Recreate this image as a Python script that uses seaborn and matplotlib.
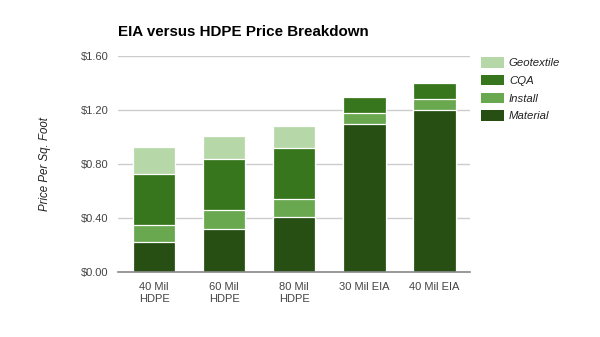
import matplotlib
matplotlib.use("Agg")
import matplotlib.pyplot as plt
import seaborn as sns
import numpy as np
import pandas as pd
from matplotlib.patches import Patch

# Price components per square foot for each liner option
categories = ["40 Mil\nHDPE", "60 Mil\nHDPE", "80 Mil\nHDPE", "30 Mil EIA", "40 Mil EIA"]
material = [0.22, 0.32, 0.41, 1.10, 1.20]
install = [0.13, 0.14, 0.13, 0.08, 0.08]
cqa = [0.38, 0.38, 0.38, 0.12, 0.12]
geotextile = [0.20, 0.17, 0.16, 0.00, 0.00]

y_ticks = [0.0, 0.4, 0.8, 1.2, 1.6]
y_tick_labels = ["$0.00", "$0.40", "$0.80", "$1.20", "$1.60"]

colors = {
    "Geotextile": "#b6d7a8",
    "CQA": "#38761d",
    "Install": "#6aa84f",
    "Material": "#274e13",
}

sns.set_theme(style="white")
plt.rcParams["font.family"] = ["Liberation Sans", "DejaVu Sans"]

df = pd.DataFrame({
    "category": categories,
    "Material": material,
    "Install": install,
    "CQA": cqa,
    "Geotextile": geotextile,
})
df["lvl_install"] = df["Material"] + df["Install"]
df["lvl_cqa"] = df["lvl_install"] + df["CQA"]
df["lvl_geo"] = df["lvl_cqa"] + df["Geotextile"]

fig = plt.figure(figsize=(6.0, 3.37), dpi=100)
ax = fig.add_axes([0.197, 0.193, 0.586, 0.640])

# Stacked bars drawn from the tallest cumulative level down
layers = [("lvl_geo", "Geotextile"), ("lvl_cqa", "CQA"),
          ("lvl_install", "Install"), ("Material", "Material")]
for col, name in layers:
    sns.barplot(data=df, x="category", y=col, color=colors[name],
                saturation=1, width=0.607, edgecolor="white",
                linewidth=0.9, ax=ax, zorder=3)

ax.set_xlim(-0.514, 4.507)
ax.set_ylim(0, 1.6)
ax.set_yticks(y_ticks)
ax.set_yticklabels(y_tick_labels)
ax.grid(axis="y", color="#cccccc", linewidth=1.0, zorder=0)
ax.set_axisbelow(True)
for side in ["top", "right", "left"]:
    ax.spines[side].set_visible(False)
ax.spines["bottom"].set_color("#888888")
ax.spines["bottom"].set_linewidth(1.2)
ax.spines["bottom"].set_zorder(4)
ax.tick_params(axis="both", length=0, labelsize=8, colors="#444444")
ax.tick_params(axis="y", pad=7)
ax.tick_params(axis="x", pad=7)
for lab in ax.get_xticklabels():
    lab.set_linespacing(1.3)
    lab.set_verticalalignment("top")

ax.set_xlabel("")
ax.set_ylabel("Price Per Sq. Foot", fontsize=8.3, fontstyle="italic",
              color="#222222", labelpad=0)
ax.yaxis.set_label_coords(-0.19, 0.5)

fig.text(118 / 600, 1 - 32 / 337, "EIA versus HDPE Price Breakdown",
         fontsize=10.9, fontweight="bold", color="#000000",
         ha="left", va="center")

handles = [Patch(facecolor=colors[n], edgecolor="none") for n in
           ["Geotextile", "CQA", "Install", "Material"]]
leg = fig.legend(handles, ["Geotextile", "CQA", "Install", "Material"],
                 loc="upper left", bbox_to_anchor=(481 / 600, 1 - 57 / 337),
                 frameon=False, fontsize=8.2, handlelength=2.0,
                 handleheight=1.05, handletextpad=0.45, labelspacing=0.58,
                 borderpad=0, borderaxespad=0)
for t in leg.get_texts():
    t.set_fontstyle("italic")
    t.set_color("#222222")

fig.savefig("out.png", dpi=100, facecolor="white")
